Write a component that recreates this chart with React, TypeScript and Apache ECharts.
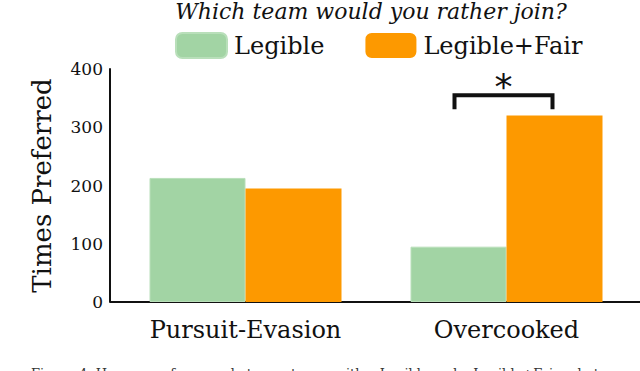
import React, { useEffect, useRef } from "react";
import * as echarts from "echarts";

const categories = ["Pursuit-Evasion", "Overcooked"];
const legibleValues = [213, 95];
const legibleFairValues = [195, 320];
const seriesNames = ["Legible", "Legible+Fair"];
const yMin = 0;
const yMax = 400;
const yInterval = 100;
const titleText = "Which team would you rather join?";
const yAxisName = "Times Preferred";
const sigMark = "*";
const sigLevels = [331, 355];
const captionText = "Figure 4: Human preferences between teams with a Legible and a Legible+Fair robot.";

const FONT = "DejaVu Serif";
const GREEN = "#a2d4a4";
const ORANGE = "#fd9900";

export default function App() {
  const ref = useRef<HTMLDivElement>(null);
  useEffect(() => {
    if (!ref.current) return;
    const chart = echarts.init(ref.current, undefined, { renderer: "svg" });
    chart.setOption({
      animation: false,
      backgroundColor: "#ffffff",
      title: {
        text: titleText,
        left: 371,
        top: 0,
        padding: 0,
        textAlign: "center",
        textStyle: { fontFamily: FONT, fontStyle: "italic", fontWeight: "normal", fontSize: 22, color: "#111" },
      },
      legend: {
        left: 175,
        top: 32,
        padding: 0,
        itemWidth: 51,
        itemHeight: 25,
        itemGap: 41,
        icon: "roundRect",
        textStyle: { fontFamily: FONT, fontSize: 24, color: "#111", padding: [0, 0, 0, 2] },
        data: seriesNames,
      },
      grid: { left: 115, right: 3, top: 69, bottom: 69, containLabel: false },
      xAxis: {
        type: "category",
        data: categories,
        axisLine: { show: true, lineStyle: { color: "#111", width: 2 } },
        axisTick: { show: false },
        axisLabel: { fontFamily: FONT, fontSize: 24, color: "#111", margin: 16 },
      },
      yAxis: {
        type: "value",
        min: yMin,
        max: yMax,
        interval: yInterval,
        offset: 5,
        name: yAxisName,
        nameLocation: "middle",
        nameGap: 55,
        nameRotate: 90,
        nameTextStyle: { fontFamily: FONT, fontSize: 26, color: "#111" },
        axisLine: { show: true, lineStyle: { color: "#111", width: 2 } },
        axisTick: { show: false },
        splitLine: { show: false },
        axisLabel: { fontFamily: FONT, fontSize: 17, color: "#111", margin: 7 },
      },
      series: [
        {
          name: seriesNames[0],
          type: "bar",
          data: legibleValues,
          barWidth: 96,
          barGap: "0%",
          itemStyle: { color: GREEN, borderColor: "#b9dfba", borderWidth: 1 },
        },
        {
          name: seriesNames[1],
          type: "bar",
          data: legibleFairValues,
          barWidth: 96,
          barGap: "0%",
          itemStyle: { color: ORANGE },
        },
      ],
    });

    const cx = chart.convertToPixel({ xAxisIndex: 0 }, categories[1]) as number;
    const yLow = chart.convertToPixel({ yAxisIndex: 0 }, sigLevels[0]) as number;
    const yHigh = chart.convertToPixel({ yAxisIndex: 0 }, sigLevels[1]) as number;
    const y0 = chart.convertToPixel({ yAxisIndex: 0 }, 0) as number;
    chart.setOption({
      graphic: [
        {
          type: "line",
          shape: { x1: 110, y1: y0, x2: 640, y2: y0 },
          style: { stroke: "#111", lineWidth: 2 },
          silent: true,
        },
        {
          type: "polyline",
          shape: {
            points: [
              [cx - 52, yLow],
              [cx - 52, yHigh],
              [cx + 46, yHigh],
              [cx + 46, yLow],
            ],
          },
          style: { stroke: "#111", lineWidth: 4, fill: null, lineJoin: "miter", lineCap: "butt" },
        },
        {
          type: "text",
          x: cx - 3,
          y: yHigh + 9,
          style: {
            text: sigMark,
            fontFamily: "DejaVu Sans",
            fontSize: 36,
            fill: "#111",
            align: "center",
            verticalAlign: "bottom",
          },
        },
        {
          type: "text",
          x: 31,
          y: 367,
          style: {
            text: captionText,
            fontFamily: FONT,
            fontSize: 13,
            fill: "#333",
            align: "left",
            verticalAlign: "top",
          },
        },
      ],
    });
    return () => chart.dispose();
  }, []);
  return (
    <div
      ref={ref}
      style={{ position: "fixed", left: 0, top: 0, width: 640, height: 371 }}
    />
  );
}
